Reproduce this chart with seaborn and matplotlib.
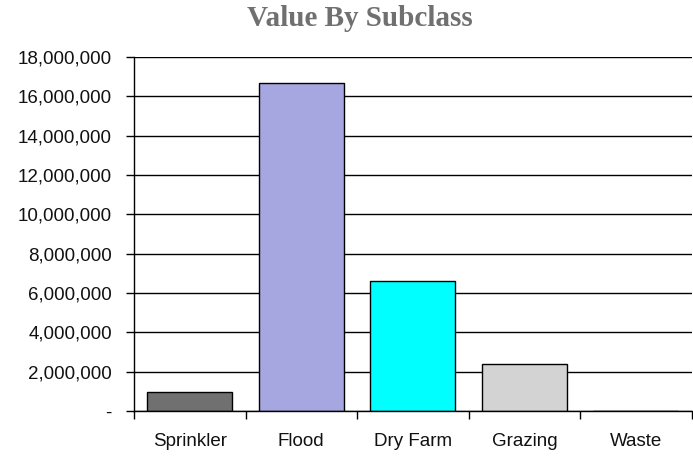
import matplotlib
matplotlib.use("Agg")
import matplotlib.pyplot as plt
import matplotlib.ticker as mticker
import seaborn as sns
import pandas as pd

# Values
subclasses = ["Sprinkler", "Flood", "Dry Farm", "Grazing", "Waste"]
values = [970000, 16680000, 6610000, 2390000, 0]
bar_colors = ["#707070", "#a6a6e0", "#00ffff", "#d3d3d3", "#ffffff"]

df = pd.DataFrame({"Subclass": subclasses, "Value": values})

sns.set_style("white")
plt.rcParams["font.family"] = ["Liberation Sans", "DejaVu Sans"]

fig = plt.figure(figsize=(6.93, 4.57), dpi=100)
ax = fig.add_axes([134 / 693, 1 - 411 / 457, 1 - 134 / 693 - 0.002, (411 - 57) / 457])

# gridlines under the bars
ax.set_axisbelow(True)
ax.yaxis.grid(True, color="black", linewidth=1)
ax.xaxis.grid(False)

sns.barplot(x="Subclass", y="Value", data=df, hue="Subclass", palette=bar_colors,
            legend=False, edgecolor="black", linewidth=1, width=0.76,
            saturation=1, ax=ax)

ax.set_xlim(-0.5, 4.5)
ax.set_ylim(0, 18000000)
ax.yaxis.set_major_locator(mticker.MultipleLocator(2000000))
ax.yaxis.set_major_formatter(
    mticker.FuncFormatter(lambda v, p: "-" if v == 0 else f"{v:,.0f}"))

# ticks between categories, labels at centres
ax.set_xticks(range(len(subclasses)))
ax.set_xticklabels(subclasses)
ax.set_xticks([i - 0.5 for i in range(len(subclasses) + 1)], minor=True)
ax.tick_params(axis="x", which="major", bottom=True, length=0, pad=16,
               labelsize=13.5, colors="#111111")
ax.tick_params(axis="x", which="minor", bottom=True, length=6, width=1,
               color="black", direction="out")
ax.tick_params(axis="y", which="major", length=6, width=1, color="black", direction="out",
               left=True, pad=10, labelsize=13.5, labelcolor="#111111")

ax.set_xlabel("")
ax.set_ylabel("")

for side in ["top", "right"]:
    ax.spines[side].set_visible(False)
for side in ["left", "bottom"]:
    ax.spines[side].set_color("black")
    ax.spines[side].set_linewidth(1)

fig.text(0.52, 1 - 19 / 457, "Value By Subclass", ha="center", va="center",
         fontsize=21, fontweight="bold", color="#707070", family="Liberation Serif")

fig.savefig("out.png", dpi=100)
